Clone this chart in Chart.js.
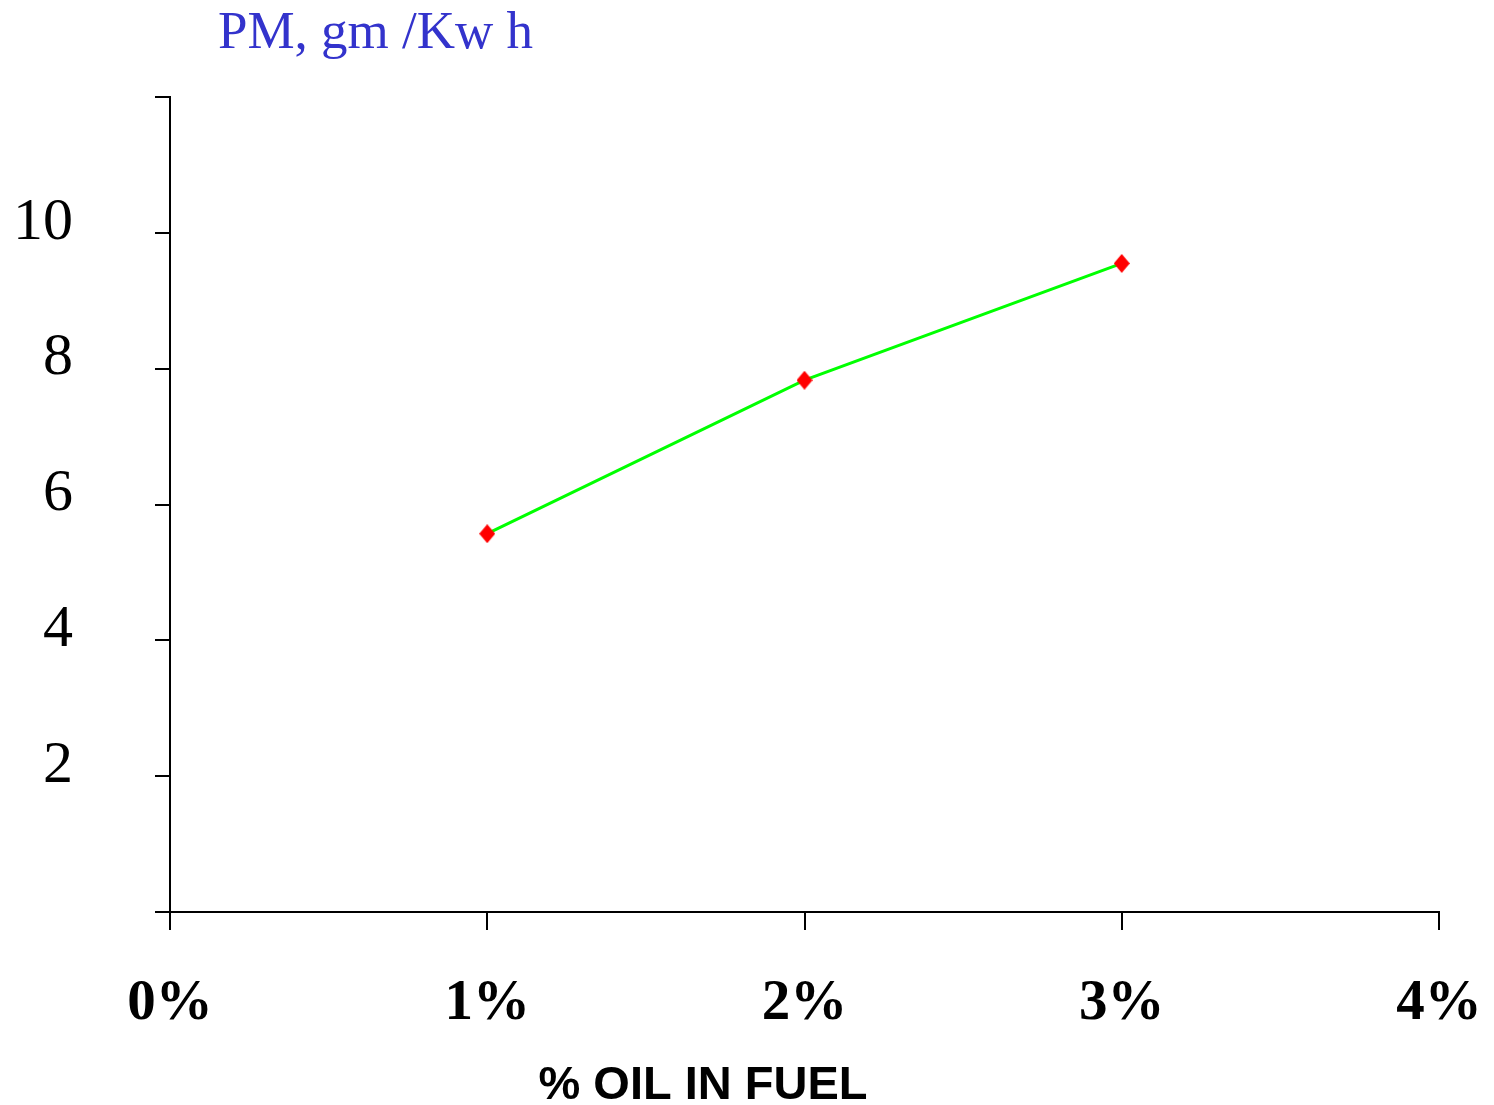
<!DOCTYPE html>
<html>
<head>
<meta charset="utf-8">
<script src="https://cdn.jsdelivr.net/npm/chart.js@4/dist/chart.umd.min.js"></script>
<style>
html,body{margin:0;padding:0;background:#fff;}
#wrap{width:1494px;height:1105px;position:relative;}
</style>
</head>
<body>
<div id="wrap"><canvas id="c" width="1494" height="1105"></canvas></div>
<script>
const oilPercent = [1, 2, 3];
const pmValues = [5.57, 7.83, 9.55];
const yTickValues = [2, 4, 6, 8, 10];
const xTickLabels = ['0%', '1%', '2%', '3%', '4%'];
const yTitle = 'PM, gm /Kw h';
const xTitle = '% OIL IN FUEL';

// diamond marker
const marker = document.createElement('canvas');
marker.width = 16; marker.height = 19;
(function(){
  const g = marker.getContext('2d');
  g.fillStyle = '#ff0000';
  g.beginPath();
  g.moveTo(8, 0); g.lineTo(16, 9.5); g.lineTo(8, 19); g.lineTo(0, 9.5);
  g.closePath(); g.fill();
})();

const titlesPlugin = {
  id: 'titles',
  afterDraw(chart) {
    const ctx = chart.ctx, a = chart.chartArea;
    ctx.save();
    ctx.fillStyle = '#3333cc';
    ctx.font = '53px "Liberation Serif"';
    ctx.textAlign = 'left';
    ctx.textBaseline = 'alphabetic';
    ctx.fillText(yTitle, a.left + 48, 48);
    ctx.fillStyle = '#000';
    ctx.font = 'bold 47px "Liberation Sans"';
    ctx.textAlign = 'center';
    ctx.fillText(xTitle, a.left + (a.right - a.left) * 0.42, 1099);
    ctx.restore();
  }
};

new Chart(document.getElementById('c'), {
  type: 'line',
  data: {
    datasets: [{
      data: oilPercent.map((x, i) => ({x: x, y: pmValues[i]})),
      borderColor: '#00ff00',
      borderWidth: 3,
      pointStyle: marker,
      pointRadius: 9,
      fill: false,
      tension: 0
    }]
  },
  plugins: [titlesPlugin],
  options: {
    responsive: false,
    animation: false,
    devicePixelRatio: 1,
    layout: {padding: {top: 97, right: 55, bottom: 0, left: 0}},
    plugins: {legend: {display: false}, tooltip: {enabled: false}, title: {display: false}},
    scales: {
      x: {
        type: 'linear', min: 0, max: 4,
        afterFit(s) { s.height = 193; s.paddingLeft = 0; s.paddingRight = 0; },
        afterBuildTicks(s) { s.ticks = xTickLabels.map((_, i) => ({value: i})); },
        ticks: {
          stepSize: 1,
          callback: (v, i) => xTickLabels[i],
          color: '#000',
          font: {family: '"Liberation Serif"', size: 57, weight: 'bold'},
          padding: 40,
          maxRotation: 0
        },
        grid: {drawOnChartArea: false, drawTicks: true, tickLength: 18, color: '#000', lineWidth: 2},
        border: {display: true, color: '#000', width: 2}
      },
      y: {
        type: 'linear', min: 0, max: 12,
        afterFit(s) { s.width = 170; s.paddingTop = 0; s.paddingBottom = 0; },
        afterBuildTicks(s) { s.ticks = [0].concat(yTickValues, [12]).map(v => ({value: v})); },
        ticks: {
          stepSize: 2,
          callback: v => (yTickValues.includes(v) ? String(v) : ''),
          color: '#000',
          font: {family: '"Liberation Serif"', size: 60},
          padding: 82,
          labelOffset: -10
        },
        grid: {drawOnChartArea: false, drawTicks: true, tickLength: 15, color: '#000', lineWidth: 2},
        border: {display: true, color: '#000', width: 2}
      }
    }
  }
});
</script>
</body>
</html>
